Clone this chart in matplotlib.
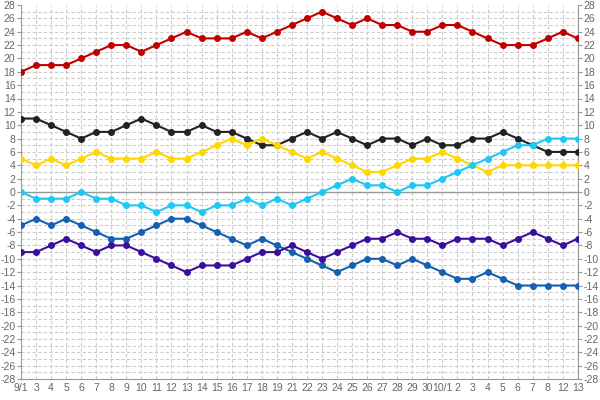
import matplotlib
matplotlib.use("Agg")
from matplotlib import pyplot as plt
import numpy as np

# x labels (9/2, 9/20, 10/9-10/11 not in data)
labels = ['9/1', '3', '4', '5', '6', '7', '8', '9', '10', '11', '12', '13', '14',
          '15', '16', '17', '18', '19', '21', '22', '23', '24', '25', '26', '27',
          '28', '29', '30', '10/1', '2', '3', '4', '5', '6', '7', '8', '12', '13']

red = [18, 19, 19, 19, 20, 21, 22, 22, 21, 22, 23, 24, 23, 23, 23, 24, 23, 24, 25,
       26, 27, 26, 25, 26, 25, 25, 24, 24, 25, 25, 24, 23, 22, 22, 22, 23, 24, 23]
black = [11, 11, 10, 9, 8, 9, 9, 10, 11, 10, 9, 9, 10, 9, 9, 8, 7, 7, 8, 9, 8, 9,
         8, 7, 8, 8, 7, 8, 7, 7, 8, 8, 9, 8, 7, 6, 6, 6]
yellow = [5, 4, 5, 4, 5, 6, 5, 5, 5, 6, 5, 5, 6, 7, 8, 7, 8, 7, 6, 5, 6, 5, 4, 3,
          3, 4, 5, 5, 6, 5, 4, 3, 4, 4, 4, 4, 4, 4]
cyan = [0, -1, -1, -1, 0, -1, -1, -2, -2, -3, -2, -2, -3, -2, -2, -1, -2, -1, -2,
        -1, 0, 1, 2, 1, 1, 0, 1, 1, 2, 3, 4, 5, 6, 7, 7, 8, 8, 8]
blue = [-5, -4, -5, -4, -5, -6, -7, -7, -6, -5, -4, -4, -5, -6, -7, -8, -7, -8, -9,
        -10, -11, -12, -11, -10, -10, -11, -10, -11, -12, -13, -13, -12, -13, -14,
        -14, -14, -14, -14]
purple = [-9, -9, -8, -7, -8, -9, -8, -8, -9, -10, -11, -12, -11, -11, -11, -10, -9,
          -9, -8, -9, -10, -9, -8, -7, -7, -6, -7, -7, -8, -7, -7, -7, -8, -7, -6,
          -7, -8, -7]

series = [(red, '#c00000'), (black, '#222222'), (yellow, '#ffd700'),
          (cyan, '#1ec8f5'), (blue, '#1560b0'), (purple, '#3a0f9e')]

plt.rcParams['font.family'] = ['Liberation Sans', 'DejaVu Sans']
plt.rcParams['axes.unicode_minus'] = False

fig = plt.figure(figsize=(6, 4), dpi=100)
ax = fig.add_axes([0.035, 0.0525, 0.928, 0.935])

x = np.arange(len(labels))

# grid
for xi in x:
    ax.axvline(xi, color='#cccccc', lw=0.8, ls=(0, (3, 2)), zorder=0)
for yi in range(-27, 28):
    ax.axhline(yi, color='#cccccc', lw=0.8, ls=(0, (3, 2)), zorder=0)
ax.axhline(0, color='#999999', lw=1, zorder=1)

for vals, col in series:
    ax.plot(x, vals, color=col, lw=1.5, marker='o', ms=4, zorder=3)

ax.set_xlim(0, len(labels) - 1)
ax.set_ylim(-28, 28)
ax.set_xticks(x)
ax.set_xticklabels(labels)
ax.set_yticks(range(-28, 29, 2))

ax.spines['top'].set_visible(False)
for s in ['left', 'right', 'bottom']:
    ax.spines[s].set_color('#999999')
ax.tick_params(axis='y', which='both', left=True, right=True, labelleft=True,
               labelright=True, length=3, pad=1, colors='#999999',
               labelcolor='#666666', labelsize=7.5)
ax.tick_params(axis='x', length=0, pad=3, labelcolor='#666666', labelsize=7.5)

fig.savefig('out.png', dpi=100)
